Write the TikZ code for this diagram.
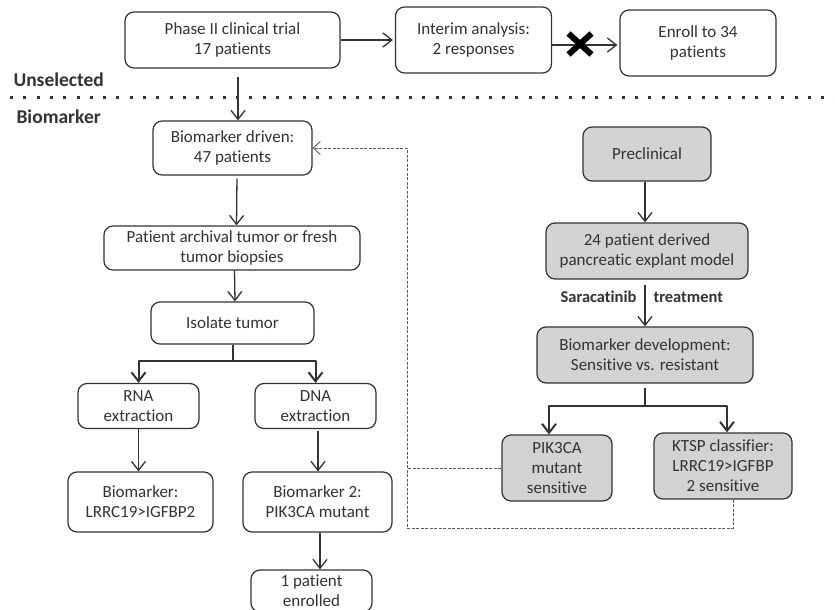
\documentclass[tikz,border=0pt]{standalone}
\usepackage{fontspec}
\setmainfont{Carlito}[Ligatures=NoCommon]
\usetikzlibrary{arrows.meta,calc,shapes.misc}
\definecolor{ink}{HTML}{333333}
\definecolor{boxgray}{HTML}{D3D3D5}
\begin{document}
\begin{tikzpicture}[x=1pt, y=-1pt, line join=round, font=\fontsize{17}{20}\selectfont, text=ink,
	box/.style={draw=ink, line width=1.2pt, rounded corners=9pt, align=center, inner sep=0pt},
	pre/.style={box, fill=boxgray},
	sz/.style 2 args={minimum width=#1, minimum height=#2},
	arr/.style={draw=ink, line width=1.3pt, -{Straight Barb[length=9pt,width=14pt]}},
	split/.style={line width=2pt},
	fb/.style={draw=ink!80, line width=0.9pt, dash pattern=on 3pt off 1.5pt},
	head/.style={font=\fontsize{19.5}{22}\selectfont\bfseries, anchor=west}]
	\useasboundingbox[fill=white] (0,0) rectangle (835,610);
	% unselected part
	\node[box, sz={215}{56}] (phase) at (232.5,40) {Phase II clinical trial\\17 patients};
	\node[box, sz={156}{66}] (interim) at (473.5,40) {Interim analysis:\\2 responses};
	\node[box, sz={156}{66}] (enroll) at (698,43) {Enroll to 34\\patients};
	\node[head] (unsel) at (10,80) {Unselected};
	\draw[line width=3pt, dash pattern=on 3pt off 10.3pt, draw=ink] (10,97) -- (835,97);
	\node[head] (bmk) at (13,117) {Biomarker};
	% clinical side
	\node[box, sz={159}{54}] (driven) at (232.5,148) {Biomarker driven:\\47 patients};
	\node[box, sz={256}{44}] (archival) at (232,248) {Patient archival tumor or fresh\\tumor biopsies};
	\node[box, sz={163}{42}] (isolate) at (232.5,323) {Isolate tumor};
	\node[box, sz={121}{45}] (rna) at (138.5,406) {RNA\\extraction};
	\node[box, sz={121}{45}] (dna) at (315.5,406) {DNA\\extraction};
	\node[box, sz={145}{60}] (bmone) at (140.5,502) {Biomarker:\\LRRC19>IGFBP2};
	\node[box, sz={149}{60}] (bmtwo) at (317.5,502) {Biomarker 2:\\PIK3CA mutant};
	\node[box, sz={121}{42}] (enrolled) at (311.5,591) {1 patient\\enrolled};
	% preclinical side
	\node[pre, sz={128}{54}] (preclin) at (647,154) {Preclinical};
	\node[pre, sz={202}{56}] (explant) at (647,251) {24 patient derived\\pancreatic explant model};
	\node[pre, sz={216}{56}] (develop) at (645,355) {Biomarker development:\\Sensitive vs. resistant};
	\node[pre, sz={110}{66}] (pik) at (557,468) {PIK3CA\\mutant\\sensitive};
	\node[pre, sz={138}{66}] (ktsp) at (723,466) {KTSP classifier:\\LRRC19>IGFBP\\2 sensitive};
	\node[font=\fontsize{16.5}{20}\selectfont\bfseries, anchor=east] (sara) at (640,297) {Saracatinib};
	\node[font=\fontsize{16.5}{20}\selectfont\bfseries, anchor=west] (treat) at (650,297) {treatment};
	\coordinate (fbx) at (407,528);
	% connectors
	\draw[arr, shorten >=2pt] (phase.east) -- (interim.west);
	\draw[arr, shorten >=2pt] ([yshift=-5pt]interim.east) -- ([yshift=-2pt]enroll.west);
	\node[cross out, draw=black, line width=6pt, sz={17pt}{15pt}] (stop) at (580,44) {};
	\draw[arr] ([xshift=5.5pt,yshift=-8pt]phase.south) -- ([xshift=5.5pt]driven.north);
	\draw[arr, shorten <=3pt] ([xshift=4.5pt]driven.south) -- ([xshift=4.5pt]archival.north);
	\draw[arr] ([xshift=2.5pt]archival.south) -- ([xshift=2.5pt]isolate.north);
	\foreach \t in {rna, dna}
	\draw[arr, split] (isolate.south) -- ++(0,16) -| (\t.north);
	\draw[arr] (rna.south) -- (rna.south |- bmone.north);
	\draw[arr, shorten <=2pt] ([xshift=2.5pt]dna.south) -- ([xshift=2.5pt]dna.south |- bmtwo.north);
	\draw[arr] ([xshift=2.5pt]bmtwo.south) -- ([xshift=2.5pt]bmtwo.south |- enrolled.north);
	\draw[arr] ([xshift=-2pt]preclin.south) -- ([xshift=-2pt]explant.north);
	\draw[arr, shorten <=5pt] ([xshift=-2pt]explant.south) -- (develop.north);
	\draw[arr, split, shorten <=4pt] (develop.south) -- ++(0,22) -| ([xshift=-8pt]pik.north);
	\draw[arr, split, shorten <=4pt] (develop.south) -- ++(0,22) -| ([xshift=4pt]ktsp.north);
	\draw[fb] (pik.west) -- (pik.west -| fbx);
	\draw[fb, -{Straight Barb[length=7pt,width=13pt]}] ([xshift=10pt]ktsp.south) |- (fbx) |- (driven.east);
\end{tikzpicture}
\end{document}
